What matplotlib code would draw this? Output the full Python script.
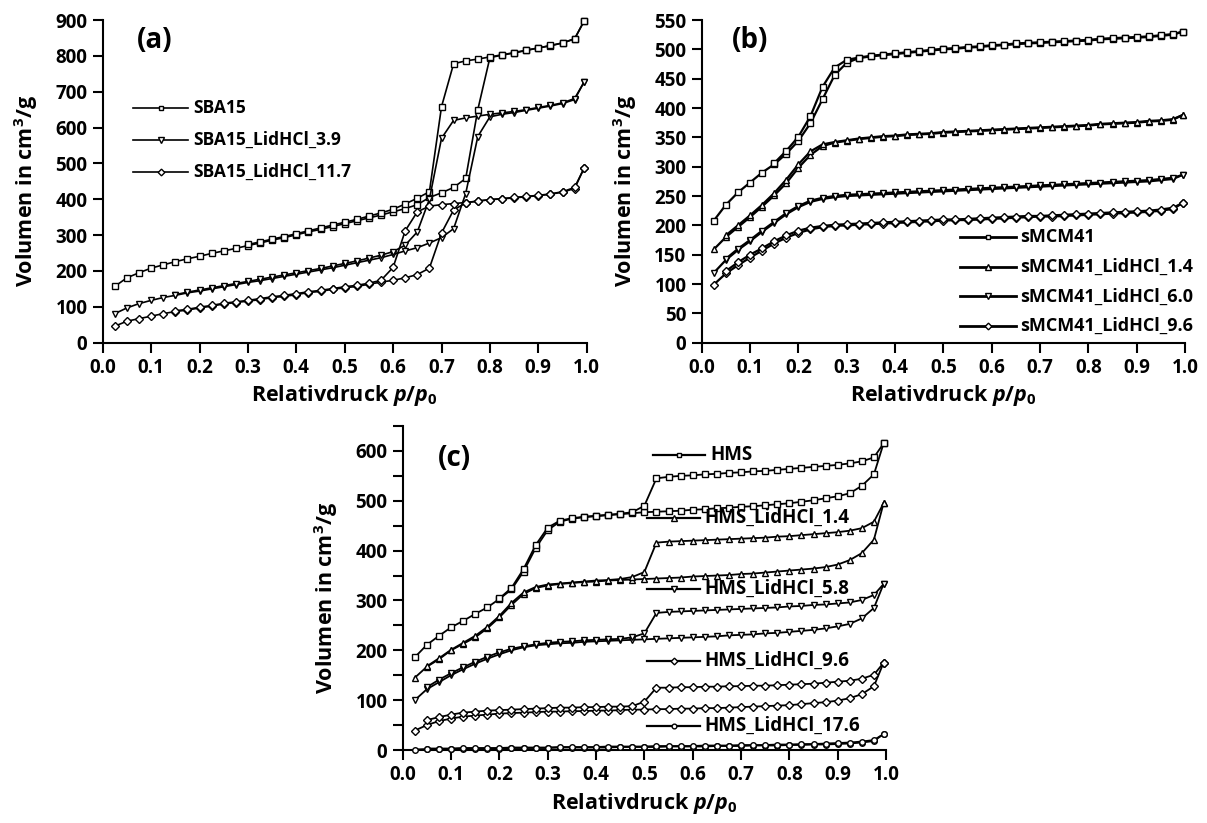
import matplotlib
matplotlib.use("Agg")
import matplotlib.pyplot as plt
from matplotlib.lines import Line2D

W, H = 1207, 823
FONT = "Open Sans"

plt.rcParams["font.family"] = [FONT, "DejaVu Sans"]
plt.rcParams["font.weight"] = "bold"
plt.rcParams["mathtext.fontset"] = "custom"
plt.rcParams["mathtext.rm"] = f"{FONT}:bold"
plt.rcParams["mathtext.it"] = f"{FONT}:italic:bold"
plt.rcParams["mathtext.bf"] = f"{FONT}:bold"

# ---------------- relative pressures ----------------
P_ADS = [0.025, 0.05, 0.075, 0.1, 0.125, 0.15, 0.175, 0.2, 0.225, 0.25,
         0.275, 0.3, 0.325, 0.35, 0.375, 0.4, 0.425, 0.45, 0.475, 0.5,
         0.525, 0.55, 0.575, 0.6, 0.625, 0.65, 0.675, 0.7, 0.725, 0.75,
         0.775, 0.8, 0.825, 0.85, 0.875, 0.9, 0.925, 0.95, 0.975, 0.995]

# ---------------- (a) SBA15 series ----------------
a_labels = ["SBA15", "SBA15_LidHCl_3.9", "SBA15_LidHCl_11.7"]
a_ads = [
    [157, 181, 195, 208, 217, 226, 234, 241, 249, 256, 263, 271, 278, 286, 293, 301,
     309, 316, 324, 332, 340, 348, 356, 365, 374, 385, 405, 418, 433, 458, 650, 795,
     802, 808, 815, 822, 828, 836, 848, 898],
    [81, 97, 109, 118, 126, 132, 139, 144, 150, 156, 162, 168, 173, 179, 185, 191,
     197, 203, 209, 216, 223, 230, 237, 246, 256, 265, 278, 293, 318, 416, 575, 630,
     637, 642, 648, 654, 660, 667, 678, 728],
    [46, 60, 67, 74, 81, 87, 91, 97, 102, 108, 112, 116, 120, 126, 129, 134,
     140, 143, 149, 153, 157, 163, 169, 174, 181, 190, 208, 306, 370, 390, 395, 399,
     401, 404, 407, 410, 414, 420, 430, 488],
]
a_des_p = [
    P_ADS[11:],
    P_ADS[5:],
    P_ADS[5:],
]
a_des = [
    [274, 281, 289, 296, 304, 312, 320, 328, 336, 344, 353, 362, 372, 387, 403, 421,
     658, 778, 786, 791, 797, 803, 809, 816, 822, 829, 836, 847, 898],
    [134, 141, 147, 153, 159, 165, 171, 177, 183, 189, 195, 201, 207, 214, 221, 228,
     236, 244, 254, 272, 309, 400, 570, 620, 627, 632, 637, 641, 645, 650, 656, 662,
     669, 681, 728],
    [89, 93, 99, 104, 110, 114, 118, 123, 128, 132, 137, 142, 146, 151, 156, 160,
     166, 174, 210, 312, 365, 381, 385, 388, 391, 395, 399, 402, 405, 408, 411, 415,
     421, 433, 488],
]
a_markers = ["s", "v", "D"]

# ---------------- (b) sMCM41 series ----------------
b_labels = ["sMCM41", "sMCM41_LidHCl_1.4", "sMCM41_LidHCl_6.0", "sMCM41_LidHCl_9.6"]
b_ads = [
    [208, 235, 256, 273, 290, 304, 322, 344, 374, 415, 456, 477, 485, 488, 490, 492,
     494, 496, 498, 500, 501, 503, 504, 506, 507, 509, 510, 511, 512, 513, 514, 515,
     517, 518, 519, 520, 521, 523, 525, 530],
    [159, 180, 197, 214, 232, 251, 272, 298, 320, 335, 341, 344, 347, 349, 351, 352,
     354, 355, 356, 358, 359, 360, 361, 362, 363, 364, 365, 366, 367, 368, 369, 370,
     372, 373, 374, 375, 377, 378, 380, 388],
    [119, 141, 158, 173, 189, 204, 219, 231, 240, 245, 248, 250, 251, 252, 253, 254,
     255, 256, 257, 258, 259, 260, 261, 262, 263, 264, 265, 266, 267, 268, 269, 270,
     271, 272, 273, 274, 275, 277, 279, 286],
    [99, 118, 132, 145, 157, 169, 179, 187, 193, 197, 199, 200, 201, 202, 203, 204,
     205, 206, 207, 208, 209, 209, 210, 211, 212, 213, 214, 215, 215, 216, 217, 218,
     219, 220, 221, 222, 223, 225, 228, 238],
]
b_des_p = [P_ADS[5:], P_ADS[1:], P_ADS[1:], P_ADS[1:]]
b_des = [
    [306, 327, 351, 386, 436, 469, 482, 486, 489, 491, 493, 495, 497, 499, 501, 502,
     504, 505, 507, 508, 510, 511, 512, 513, 514, 515, 516, 518, 519, 520, 521, 522,
     524, 526, 530],
    [183, 200, 217, 235, 255, 278, 304, 326, 338, 342, 345, 348, 350, 352, 353, 355,
     356, 357, 359, 360, 361, 362, 363, 364, 365, 366, 367, 368, 369, 370, 371, 373,
     374, 375, 376, 378, 379, 381, 388],
    [143, 160, 175, 191, 206, 221, 233, 242, 247, 250, 252, 253, 254, 255, 256, 257,
     258, 259, 260, 261, 262, 263, 264, 265, 266, 267, 268, 269, 270, 271, 272, 273,
     274, 275, 276, 277, 279, 281, 286],
    [122, 137, 150, 161, 173, 183, 191, 196, 199, 201, 202, 203, 204, 205, 206, 207,
     208, 209, 210, 210, 211, 212, 213, 214, 215, 216, 216, 217, 218, 219, 220, 221,
     222, 223, 224, 225, 227, 230, 238],
]
b_markers = ["s", "^", "v", "D"]

# ---------------- (c) HMS series ----------------
c_labels = ["HMS", "HMS_LidHCl_1.4", "HMS_LidHCl_5.8", "HMS_LidHCl_9.6", "HMS_LidHCl_17.6"]
c_ads = [
    [186, 211, 229, 246, 259, 273, 286, 303, 322, 358, 405, 441, 458, 464, 467, 469,
     471, 473, 475, 477, 478, 479, 480, 482, 483, 485, 486, 488, 489, 491, 493, 495,
     498, 501, 505, 509, 515, 530, 553, 615],
    [145, 167, 182, 200, 213, 226, 244, 266, 291, 313, 325, 330, 333, 335, 337, 338,
     340, 341, 342, 343, 344, 345, 346, 348, 349, 350, 351, 353, 354, 356, 358, 360,
     362, 364, 367, 372, 381, 395, 422, 495],
    [100, 122, 136, 150, 162, 173, 183, 192, 200, 206, 210, 212, 214, 215, 217, 218,
     219, 220, 221, 222, 223, 224, 225, 226, 227, 228, 230, 231, 232, 234, 235, 237,
     239, 241, 244, 248, 253, 264, 285, 333],
    [39, 50, 58, 63, 67, 69, 71, 73, 74, 75, 76, 77, 77, 78, 78, 79,
     79, 80, 81, 81, 82, 82, 83, 83, 84, 84, 85, 86, 87, 88, 89, 90,
     92, 94, 96, 99, 104, 112, 128, 175],
    [1, 2, 2, 2, 3, 3, 3, 3, 4, 4, 4, 4, 5, 5, 5, 5,
     5, 6, 6, 6, 6, 7, 7, 7, 7, 8, 8, 8, 9, 9, 9, 10,
     10, 11, 11, 12, 13, 15, 18, 32],
]
c_des_p = [P_ADS[7:], P_ADS[1:], P_ADS[1:], P_ADS[1:], P_ADS[1:]]
c_des = [
    [304, 325, 363, 411, 446, 460, 465, 468, 470, 472, 474, 477, 490, 545, 548, 550,
     551, 553, 554, 556, 557, 559, 560, 562, 564, 566, 568, 570, 572, 575, 579, 587,
     615],
    [168, 184, 201, 215, 229, 247, 269, 295, 316, 327, 332, 334, 336, 338, 340, 341,
     343, 347, 357, 416, 418, 419, 420, 421, 422, 423, 424, 425, 426, 428, 429, 431,
     433, 435, 437, 440, 445, 458, 495],
    [126, 141, 154, 166, 177, 187, 196, 203, 208, 212, 215, 217, 218, 220, 221, 222,
     223, 226, 234, 275, 277, 278, 279, 280, 281, 282, 283, 284, 285, 286, 288, 289,
     291, 292, 294, 296, 301, 311, 333],
    [60, 66, 71, 75, 77, 79, 80, 81, 82, 83, 84, 85, 85, 86, 86, 87,
     87, 88, 97, 125, 125, 126, 126, 127, 127, 128, 128, 129, 129, 130, 131, 132,
     133, 135, 137, 139, 143, 151, 175],
    [3, 3, 3, 4, 4, 4, 4, 5, 5, 5, 5, 6, 6, 6, 6, 7,
     7, 7, 7, 8, 8, 8, 8, 9, 9, 9, 10, 10, 10, 11, 11, 12,
     12, 13, 14, 15, 17, 20, 32],
]
c_markers = ["s", "^", "v", "D", "o"]

MSIZE = {"s": 3.8, "^": 4.6, "v": 4.6, "D": 4.0, "o": 4.0}

fig = plt.figure(figsize=(W / 100, H / 100), dpi=100)


def px_axes(left, top, right, bottom):
    return fig.add_axes([left / W, 1 - bottom / H, (right - left) / W, (bottom - top) / H])


def style_axes(ax, ymax, ystep, yminor=None):
    ax.set_xlim(0, 1.0)
    ax.set_ylim(0, ymax)
    ax.set_xticks([i / 10 for i in range(11)])
    ax.set_xticklabels([f"{i / 10:.1f}" for i in range(11)])
    ax.set_yticks(list(range(0, ymax + 1, ystep)))
    if yminor:
        ax.set_yticks(list(range(yminor, ymax + 1, ystep)), minor=True)
    for s in ("top", "right"):
        ax.spines[s].set_visible(False)
    for s in ("left", "bottom"):
        ax.spines[s].set_linewidth(1.5)
    ax.tick_params(axis="both", which="major", direction="out", length=7, width=1.5,
                   labelsize=13.5, pad=4)
    ax.tick_params(axis="y", which="minor", direction="out", length=7, width=1.5)
    for lbl in ax.get_xticklabels() + ax.get_yticklabels():
        lbl.set_fontweight("bold")
    ax.set_xlabel("Relativdruck $p/p_0$", fontsize=15.5, fontweight="bold")
    ax.set_ylabel("Volumen in cm$^3$/g", fontsize=15.5, fontweight="bold")
    ax.xaxis.set_label_coords(0.5, -0.125)
    ax.yaxis.set_label_coords(-0.13, 0.47)


def draw_series(ax, ads, des_p, des, markers, lw):
    for y_a, p_d, y_d, m in zip(ads, des_p, des, markers):
        kw = dict(color="black", lw=lw, marker=m, ms=MSIZE[m], mfc="white",
                  mec="black", mew=1.0, clip_on=False, zorder=3)
        ax.plot(P_ADS, y_a, **kw)
        ax.plot(p_d, y_d, **kw)


def legend_entry(x0, x1, xt, y, marker, label, lw, size):
    ln = Line2D([x0 / W, x1 / W], [1 - y / H, 1 - y / H], transform=fig.transFigure,
                color="black", lw=lw)
    fig.add_artist(ln)
    mk = Line2D([(x0 + x1) / 2 / W], [1 - y / H], transform=fig.transFigure,
                color="black", marker=marker, ms=MSIZE[marker] - 0.6, mfc="white",
                mec="black", mew=1.0, lw=0)
    fig.add_artist(mk)
    fig.text(xt / W, 1 - y / H, label, fontsize=size, fontweight="bold",
             va="center", ha="left")


# ---- panel (a)
ax_a = px_axes(102.7, 20, 586.7, 342.7)
style_axes(ax_a, 900, 100)
draw_series(ax_a, a_ads, a_des_p, a_des, a_markers, 1.2)
for i, (lab, m) in enumerate(zip(a_labels, a_markers)):
    legend_entry(133, 188, 193, 108 + 32 * i, m, lab, 1.2, 12.5)
fig.text(155 / W, 1 - 41 / H, "(a)", fontsize=20, fontweight="bold", ha="center", va="center")

# ---- panel (b)
ax_b = px_axes(701.7, 20, 1185, 342.7)
style_axes(ax_b, 550, 50)
draw_series(ax_b, b_ads, b_des_p, b_des, b_markers, 1.6)
for i, (lab, m) in enumerate(zip(b_labels, b_markers)):
    legend_entry(960, 1016, 1020, 237 + 29.7 * i, m, lab, 2.0, 13)
fig.text(750 / W, 1 - 41 / H, "(b)", fontsize=20, fontweight="bold", ha="center", va="center")

# ---- panel (c)
ax_c = px_axes(402.7, 426, 886, 750)
style_axes(ax_c, 650, 100, yminor=50)
ax_c.set_yticks(list(range(0, 601, 100)))
draw_series(ax_c, c_ads, c_des_p, c_des, c_markers, 1.3)
c_rows = [455, 518, 589, 661, 726]
for i, (lab, m) in enumerate(zip(c_labels, c_markers)):
    if i == 0:
        legend_entry(653, 705, 710, c_rows[i], m, lab, 1.6, 13.5)
    else:
        legend_entry(647, 700, 704, c_rows[i], m, lab, 1.6, 13.5)
fig.text(454 / W, 1 - 459 / H, "(c)", fontsize=20, fontweight="bold", ha="center", va="center")

fig.savefig("out.png", dpi=100)
